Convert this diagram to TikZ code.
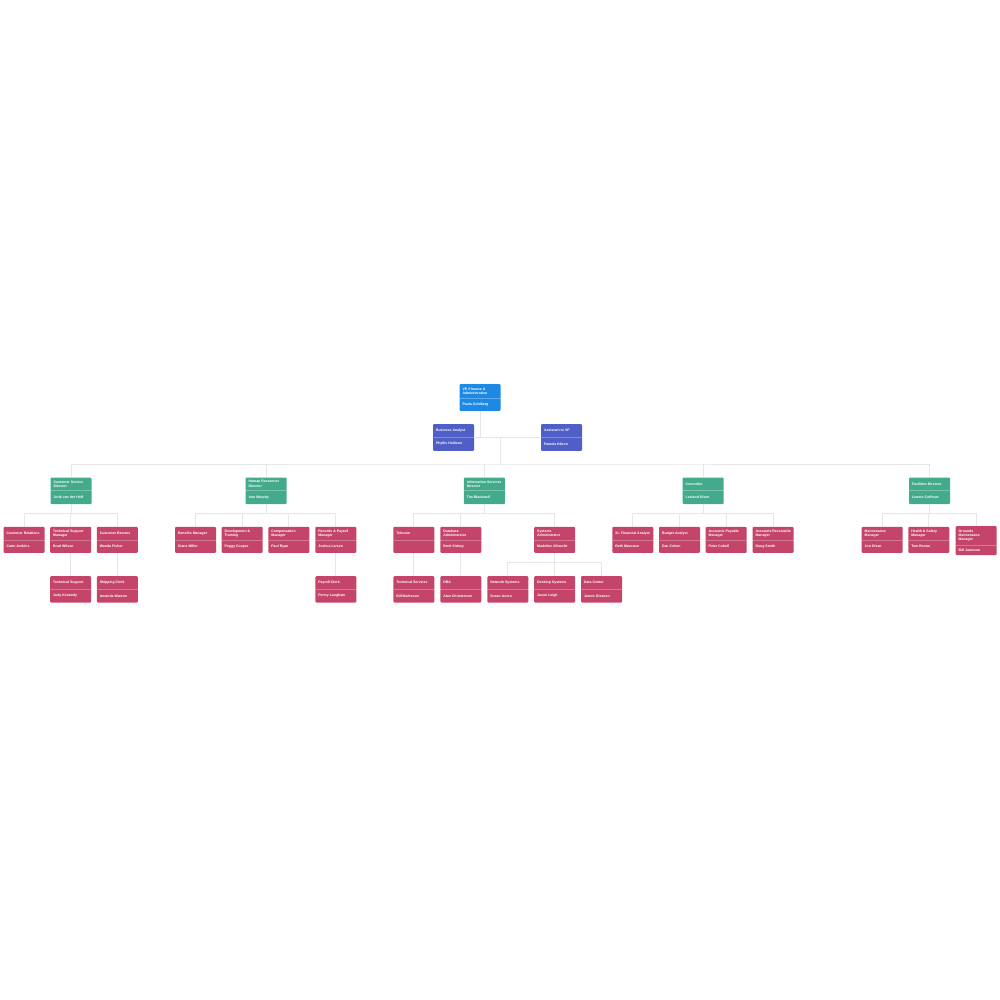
\documentclass[tikz,border=0pt]{standalone}
\usepackage{fontspec}
\setmainfont{Liberation Sans}
\definecolor{vpblue}{HTML}{1E88E5}
\definecolor{asstblue}{HTML}{4F5FC5}
\definecolor{dirgreen}{HTML}{43AB8B}
\definecolor{staffred}{HTML}{C44569}
\definecolor{connclr}{HTML}{E6E6E6}
\tikzset{
  obox/.style={rectangle, anchor=north, minimum width=41pt, inner sep=0pt, draw=none, rounded corners=1pt},
  sepline/.style={draw=white, draw opacity=0.28, line width=0.5pt},
  htext/.style={anchor=west, text=white, font=\bfseries\fontsize{3.5}{4.4}\selectfont, align=left, inner sep=0pt},
  conn/.style={draw=connclr, line width=0.9pt},
}
% name, cx, top, colour, header height, total height, header, person
\newcommand\obox[8]{%
  \node[obox, fill=#4, minimum height={#6}] (#1) at (#2,#3) {};
  \draw[sepline] ([yshift=-#5]#1.north west) -- ([yshift=-#5]#1.north east);
  \node[htext] (#1h) at ([xshift=3,yshift=-#5/2]#1.north west) {#7};
  \node[htext] (#1n) at ([xshift=3,yshift={-#5-(#6-#5)/2}]#1.north west) {#8};
}
\begin{document}
\begin{tikzpicture}[x=1pt,y=-1pt]
\fill[white] (0,0) rectangle (1000,1000);
\useasboundingbox (0,0) rectangle (1000,1000);

% coordinates for buses
\coordinate (bus) at (500,464);
\coordinate (rowbus) at (0,513.3);
\coordinate (subbus) at (0,562.7);

% top
\obox{VP}{480}{384}{vpblue}{14.7}{26.7}{VP, Finance \&\\Administration}{Paula Goldberg}
\obox{BA}{453.5}{424}{asstblue}{13.3}{26.7}{Business Analyst}{Phyllis Hollison}
\obox{AVP}{561.5}{424}{asstblue}{13.3}{26.7}{Assistant to VP}{Pamela Hilson}

% directors
\obox{CSD}{71}{477.3}{dirgreen}{13.4}{26.7}{Customer Service\\Director}{Jorik van der Hoff}
\obox{HRD}{266}{477.3}{dirgreen}{13.4}{26.7}{Human Resources\\Director}{Ann Murphy}
\obox{ISD}{484.3}{477.3}{dirgreen}{13.4}{26.7}{Information Services\\Director}{Tim Blackwell}
\obox{CTRL}{703.2}{477.3}{dirgreen}{13.4}{26.7}{Controller}{Leeland Olsen}
\obox{FD}{929.5}{477.3}{dirgreen}{13.4}{26.7}{Facilities Director}{Lenore Coffman}

% customer service
\obox{CR}{24}{526.7}{staffred}{13.3}{26}{Customer Relations}{Carin Jenkins}
\obox{TSM}{70.7}{526.7}{staffred}{13.3}{26}{Technical Support\\Manager}{Brad Wilson}
\obox{CRet}{117.3}{526.7}{staffred}{13.3}{26}{Customer Returns}{Wanda Fisher}
\obox{TS}{70.7}{576}{staffred}{13.3}{26.3}{Technical Support}{Judy Kennedy}
\obox{SC}{117.3}{576}{staffred}{13.3}{26.3}{Shipping Clerk}{Amanda Watson}

% human resources
\obox{BM}{195.5}{526.7}{staffred}{13.3}{26}{Benefits Manager}{Diane Miller}
\obox{DT}{242.2}{526.7}{staffred}{13.3}{26}{Development \&\\Training}{Peggy Cooper}
\obox{CM}{288.9}{526.7}{staffred}{13.3}{26}{Compensation\\Manager}{Paul Ryan}
\obox{RPM}{335.8}{526.7}{staffred}{13.3}{26}{Records \& Payroll\\Manager}{Joshua Larsen}
\obox{PC}{335.8}{576}{staffred}{13.3}{26.3}{Payroll Clerk}{Penny Langham}

% information services
\obox{TEL}{413.8}{526.7}{staffred}{13.3}{26}{Telecom}{}
\obox{DBAdm}{460.8}{526.7}{staffred}{13.3}{26}{Database\\Administrator}{Brett Sidney}
\obox{SA}{554.7}{526.7}{staffred}{13.3}{26}{Systems\\Administrator}{Madeline Albrecht}
\obox{TSv}{413.8}{576}{staffred}{13.3}{26.3}{Technical Services}{Bill Matheson}
\obox{DBA}{460.8}{576}{staffred}{13.3}{26.3}{DBA}{Alan Christensen}
\obox{NS}{507.8}{576}{staffred}{13.3}{26.3}{Network Systems}{Susan Acora}
\obox{DS}{554.7}{576}{staffred}{13.3}{26.3}{Desktop Systems}{Jason Leigh}
\obox{DC}{601.5}{576}{staffred}{13.3}{26.3}{Data Center}{James Gleason}

% controller
\obox{SFA}{632.8}{526.7}{staffred}{13.3}{26}{Sr. Financial Analyst}{Beth Mancuso}
\obox{BuA}{679.5}{526.7}{staffred}{13.3}{26}{Budget Analyst}{Dan Cohen}
\obox{APM}{726.2}{526.7}{staffred}{13.3}{26}{Accounts Payable\\Manager}{Peter Cobell}
\obox{ARM}{773}{526.7}{staffred}{13.3}{26}{Accounts Receivable\\Manager}{Doug Smith}

% facilities
\obox{MM}{882.2}{526.7}{staffred}{13.3}{26}{Maintenance\\Manager}{Jon Olsen}
\obox{HSM}{928.8}{526.7}{staffred}{13.3}{26}{Health \& Safety\\Manager}{Tom Brown}
\obox{GMM}{976.2}{526}{staffred}{19}{29}{Grounds\\Maintenance\\Manager}{Bill Jameson}

% connectors: top
\begin{scope}[on background layer/.style={}]
\draw[conn] (VP.south) -- (VP.south |- BA.east);
\draw[conn] (BA.east) -- (AVP.west);
\coordinate (vpj) at (bus |- BA.east);
\draw[conn] (vpj) -- (bus);
\draw[conn] (CSD.north) |- (bus) -| (FD.north);
\draw[conn] (HRD.north) -- (HRD.north |- bus);
\draw[conn] (ISD.north) -- (ISD.north |- bus);
\draw[conn] (CTRL.north) -- (CTRL.north |- bus);

% customer service
\draw[conn] (CSD.south) -- (CSD.south |- rowbus);
\draw[conn] (CR.north) |- (CRet.north |- rowbus) -- (CRet.north);
\draw[conn] (TSM.north) -- (TSM.north |- rowbus);
\draw[conn] (TSM.south) -- (TS.north);
\draw[conn] (CRet.south) -- (SC.north);

% human resources
\draw[conn] (HRD.south) -- (HRD.south |- rowbus);
\draw[conn] (BM.north) |- (RPM.north |- rowbus) -- (RPM.north);
\draw[conn] (DT.north) -- (DT.north |- rowbus);
\draw[conn] (CM.north) -- (CM.north |- rowbus);
\draw[conn] (RPM.south) -- (PC.north);

% information services
\draw[conn] (ISD.south) -- (ISD.south |- rowbus);
\draw[conn] (TEL.north) |- (SA.north |- rowbus) -- (SA.north);
\draw[conn] (DBAdm.north) -- (DBAdm.north |- rowbus);
\draw[conn] (TEL.south) -- (TSv.north);
\draw[conn] (DBAdm.south) -- (DBA.north);
\draw[conn] (SA.south) -- (DS.north);
\draw[conn] (NS.north) |- (DC.north |- subbus) -- (DC.north);

% controller
\draw[conn] (CTRL.south) -- (CTRL.south |- rowbus);
\draw[conn] (SFA.north) |- (ARM.north |- rowbus) -- (ARM.north);
\draw[conn] (BuA.north) -- (BuA.north |- rowbus);
\draw[conn] (APM.north) -- (APM.north |- rowbus);

% facilities
\draw[conn] (FD.south) -- (FD.south |- rowbus);
\draw[conn] (MM.north) |- (GMM.north |- rowbus) -- (GMM.north);
\draw[conn] (HSM.north) -- (HSM.north |- rowbus);
\end{scope}
\end{tikzpicture}
\end{document}
